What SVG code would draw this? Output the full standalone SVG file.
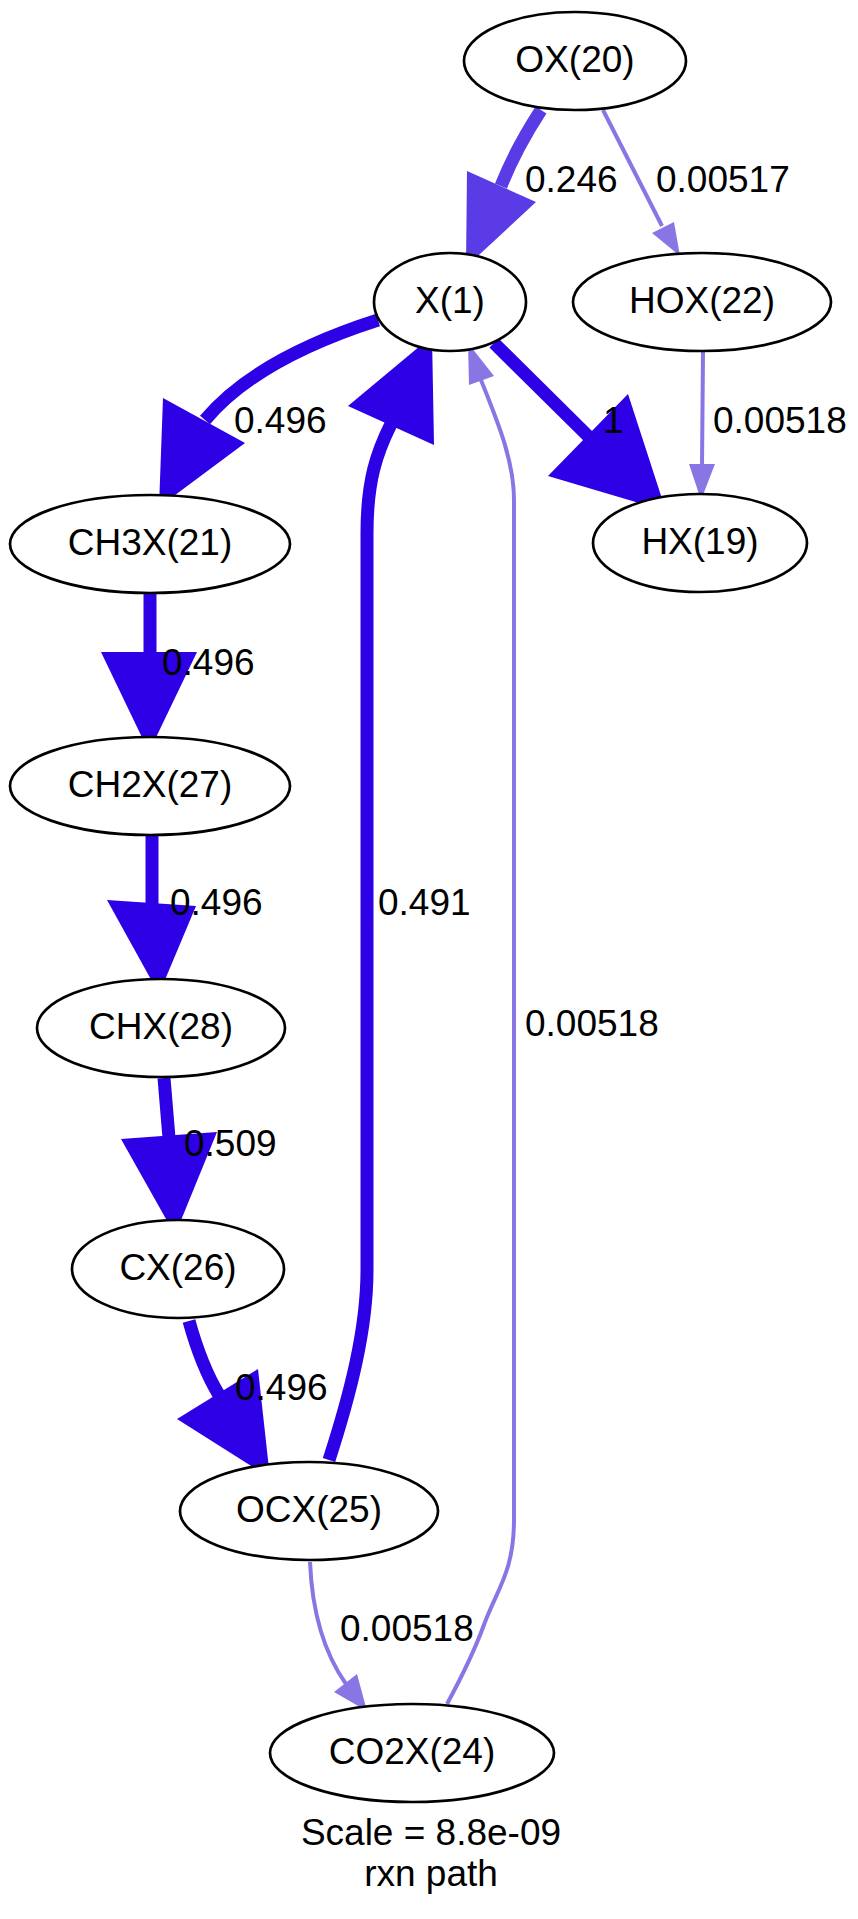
<svg xmlns="http://www.w3.org/2000/svg" width="858" height="1919" viewBox="0 0 858 1919">
<style>
text{font-family:"Liberation Sans",Arial,Helvetica,sans-serif;font-size:37px;fill:#000}
.n ellipse{fill:#fff;stroke:#000;stroke-width:2.7}
.n text{text-anchor:middle}
.e path{fill:none}
.dk{stroke:#2e00e6;stroke-width:13}
.md{stroke:#5b3be6;stroke-width:13}
.lt{stroke:#8a75e5;stroke-width:4}
.fdk{fill:#2e00e6}
.fmd{fill:#5b3be6}
.flt{fill:#8a75e5}
.lbl{text-anchor:start}
</style>
<rect width="858" height="1919" fill="#fff"/>
<g id="connectors" class="e">
  <path class="md" d="M541,110 C528,130 512,158 501,186"/>
  <polygon class="fmd" points="467,171 536,202 466,267"/>
  <path class="lt" d="M603,110 L662,226"/>
  <polygon class="flt" points="652,233 674,222 680,256"/>
  <path class="dk" d="M378,320 C300,345 240,378 205,420"/>
  <polygon class="fdk" points="163,398 245,443 159,507"/>
  <path class="dk" d="M494,343 L590,438"/>
  <polygon class="fdk" points="548,476 628,394 666,511"/>
  <path class="lt" d="M703,352 L702,466"/>
  <polygon class="flt" points="689,464 715,464 701,500"/>
  <path class="dk" d="M150,594 L150,654"/>
  <polygon class="fdk" points="101,652 197,652 149,752"/>
  <path class="dk" d="M152,836 L152,905"/>
  <polygon class="fdk" points="107,900 196,906 159,994"/>
  <path class="dk" d="M164,1078 L169,1138"/>
  <polygon class="fdk" points="121,1139 217,1132 175,1235"/>
  <path class="dk" d="M189,1321 C197,1350 205,1372 219,1395"/>
  <polygon class="fdk" points="177,1419 258,1369 270,1478"/>
  <path class="dk" d="M329,1460 C350,1395 367,1330 367,1270 L367,533 C367,480 377,452 391,424"/>
  <polygon class="fdk" points="348,406 434,445 432,336"/>
  <path class="lt" d="M310,1562 C312,1610 322,1650 346,1684"/>
  <polygon class="flt" points="334,1692 357,1674 367,1711"/>
  <path class="lt" d="M447,1704 C460,1680 475,1650 485,1622 C498,1588 514,1570 514,1520 L514,500 C514,460 497,420 481,380"/>
  <polygon class="flt" points="469,385 494,376 468,343"/>
  <text class="lbl" x="525" y="192">0.246</text>
  <text class="lbl" x="656" y="192">0.00517</text>
  <text class="lbl" x="234" y="433">0.496</text>
  <text class="lbl" x="603" y="433">1</text>
  <text class="lbl" x="713" y="433">0.00518</text>
  <text class="lbl" x="162" y="675">0.496</text>
  <text class="lbl" x="170" y="915">0.496</text>
  <text class="lbl" x="378" y="915">0.491</text>
  <text class="lbl" x="525" y="1036">0.00518</text>
  <text class="lbl" x="184" y="1156">0.509</text>
  <text class="lbl" x="235" y="1400">0.496</text>
  <text class="lbl" x="340" y="1641">0.00518</text>
</g>
<g id="OX20" class="n"><ellipse cx="575" cy="61" rx="111" ry="49"/><text x="575" y="72">OX(20)</text></g>
<g id="X1" class="n"><ellipse cx="450" cy="302" rx="76" ry="49"/><text x="450" y="313">X(1)</text></g>
<g id="HOX22" class="n"><ellipse cx="702" cy="302" rx="129" ry="49"/><text x="702" y="313">HOX(22)</text></g>
<g id="HX19" class="n"><ellipse cx="700" cy="543" rx="107" ry="49"/><text x="700" y="554">HX(19)</text></g>
<g id="CH3X21" class="n"><ellipse cx="150" cy="544" rx="140" ry="49"/><text x="150" y="555">CH3X(21)</text></g>
<g id="CH2X27" class="n"><ellipse cx="150" cy="786" rx="140" ry="49"/><text x="150" y="797">CH2X(27)</text></g>
<g id="CHX28" class="n"><ellipse cx="161" cy="1028" rx="124" ry="49"/><text x="161" y="1039">CHX(28)</text></g>
<g id="CX26" class="n"><ellipse cx="178" cy="1269" rx="106" ry="49"/><text x="178" y="1280">CX(26)</text></g>
<g id="OCX25" class="n"><ellipse cx="309" cy="1511" rx="129" ry="49"/><text x="309" y="1522">OCX(25)</text></g>
<g id="CO2X24" class="n"><ellipse cx="412" cy="1753" rx="142" ry="49"/><text x="412" y="1764">CO2X(24)</text></g>
<g id="title">
  <text x="431" y="1845" text-anchor="middle">Scale = 8.8e-09</text>
  <text x="431" y="1886" text-anchor="middle">rxn path</text>
</g>
</svg>
